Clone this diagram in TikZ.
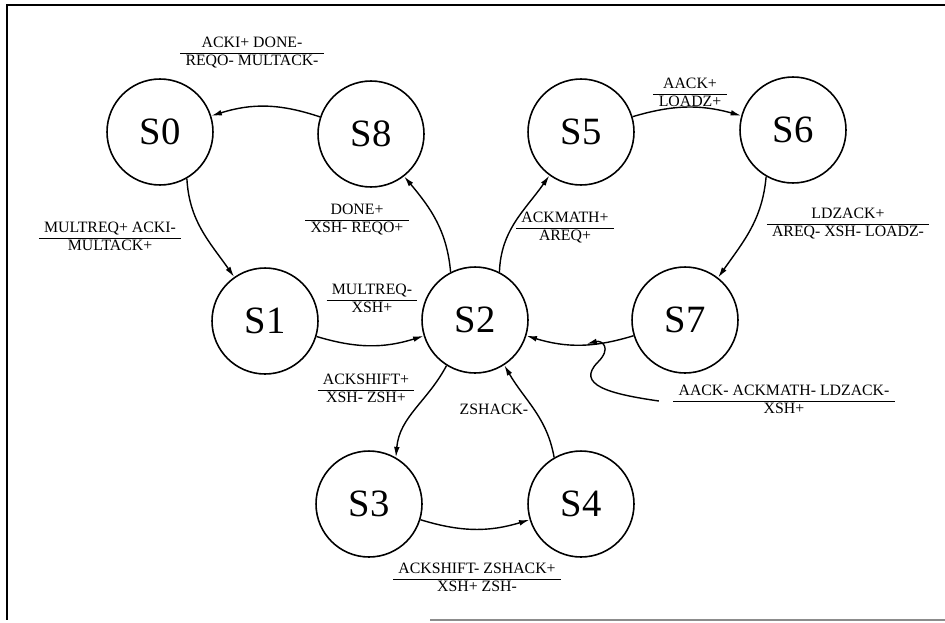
\documentclass[tikz,border=0pt]{standalone}
\usepackage{fontspec}
\setmainfont{Liberation Serif}
\usetikzlibrary{arrows.meta}

\newcommand{\trans}[2]{{\setlength{\tabcolsep}{3pt}\renewcommand{\arraystretch}{0.95}%
  \begin{tabular}{c}#1\\\hline #2\end{tabular}}}

\begin{document}
\begin{tikzpicture}[
    x=0.02cm, y=0.02cm,
    state/.style={circle, draw=black, line width=0.9pt, minimum size=2.12cm, inner sep=0pt, font=\fontsize{22}{24}\selectfont},
    lbl/.style={inner sep=0pt, font=\fontsize{9}{10}\selectfont},
    arr/.style={-{Latex[length=6pt, width=3.2pt]}, line width=0.8pt, draw=black}
]
    \useasboundingbox (0,0) rectangle (945,-622);
    \draw[line width=1pt] (945,-5) -- (7,-5) -- (7,-620);
    \draw[line width=1pt, black!45] (430,-620) -- (945,-620);

    % states
    \node[state] (s0) at (160,-132) {S0};
    \node[state] (s8) at (371,-134) {S8};
    \node[state] (s5) at (581,-132) {S5};
    \node[state] (s6) at (793,-130) {S6};
    \node[state] (s1) at (265,-321) {S1};
    \node[state] (s2) at (475,-320) {S2};
    \node[state] (s7) at (685,-320) {S7};
    \node[state] (s3) at (369,-504) {S3};
    \node[state] (s4) at (581,-504) {S4};

    % transition labels
    \node[lbl] (l80) at (252,-53) {\trans{ACKI+ DONE-}{REQO- MULTACK-}};
    \node[lbl] (l01) at (110,-238) {\trans{MULTREQ+ ACKI-}{MULTACK+}};
    \node[lbl] (l28) at (357,-220) {\trans{DONE+}{XSH- REQO+}};
    \node[lbl] (l12) at (372,-300) {\trans{MULTREQ-}{XSH+}};
    \node[lbl] (l25) at (565,-228) {\trans{ACKMATH+}{AREQ+}};
    \node[lbl] (l56) at (690,-94) {\trans{AACK+}{LOADZ+}};
    \node[lbl] (l67) at (848,-224) {\trans{LDZACK+}{AREQ- XSH- LOADZ-}};
    \node[lbl] (l23) at (366,-390) {\trans{ACKSHIFT+}{XSH- ZSH+}};
    \node[lbl] (l42) at (494,-409) {ZSHACK-};
    \node[lbl] (l34) at (477,-579) {\trans{ACKSHIFT- ZSHACK+}{XSH+ ZSH-}};
    \node[lbl] (lrst) at (784,-401) {\trans{AACK- ACKMATH- LDZACK-}{XSH+}};

    % transitions
    \draw[arr] (s8) to[bend right=18] (s0);
    \draw[arr] (s0.-60) to[out=-87, in=125] (s1.125);
    \draw[arr] (s1) to[bend right=17] (s2);
    \draw[arr] (s2.117) to[out=95, in=-50] (s8.-52);
    \draw[arr] (s2.63) to[out=88, in=-125] (s5.-126);
    \draw[arr] (s5) to[bend left=16] (s6);
    \draw[arr] (s6.-120) to[out=-95, in=55] (s7.52);
    \draw[arr] (s7) to[bend left=17] coordinate[pos=0.47] (rstpt) (s2);
    \draw[arr] (s2.-122) to[out=-118, in=85] (s3.60);
    \draw[arr] (s4.120) to[out=100, in=-60] (s2.-57);
    \draw[arr] (s3) to[bend right=17] (s4);

    % reset
    \draw[arr, shorten >=2pt] ([xshift=-8pt]lrst.west) .. controls (610,-394) and (575,-385) .. (598,-362)
        .. controls (612,-348) and (602,-340) .. (rstpt);
\end{tikzpicture}
\end{document}
